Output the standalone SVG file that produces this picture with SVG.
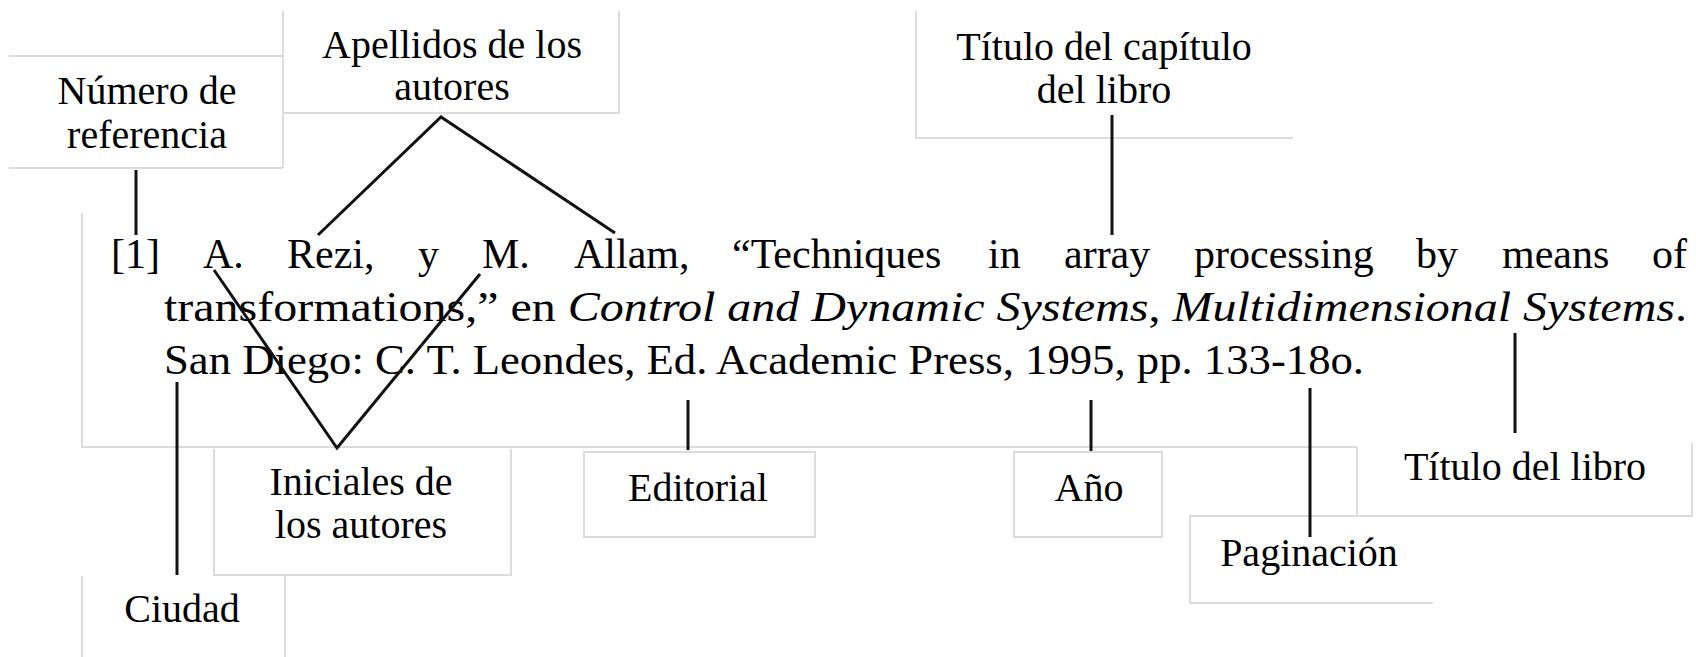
<svg xmlns="http://www.w3.org/2000/svg" width="1696" height="657" viewBox="0 0 1696 657">
<style>
.edge{stroke:#dcdcdc;stroke-width:2;fill:none}
.lbl{font-family:"Liberation Serif","Times New Roman",serif;font-size:40px;fill:#000;text-anchor:middle}
.body{font-family:"Liberation Serif","Times New Roman",serif;font-size:42px;fill:#000}
.it{font-style:italic}
.conn{stroke:#111;stroke-width:3;fill:none;stroke-linejoin:miter}
</style>
<rect width="1696" height="657" fill="#fff"/>
<g id="node-numero">
<path class="edge" d="M9 56H283M9 168H283M283 11V168"/>
<text class="lbl" x="147" y="104">Número de</text>
<text class="lbl" x="147" y="148">referencia</text>
</g>
<g id="node-apellidos">
<path class="edge" d="M283 11V113H619V11"/>
<text class="lbl" x="452" y="58">Apellidos de los</text>
<text class="lbl" x="452" y="100">autores</text>
</g>
<g id="node-titulo-capitulo">
<path class="edge" d="M916 11V138H1293"/>
<text class="lbl" x="1104" y="60">Título del capítulo</text>
<text class="lbl" x="1104" y="103">del libro</text>
</g>
<g id="node-referencia">
<path class="edge" d="M82 213V447H1357"/>
<text class="body" y="268"><tspan x="111">[1]</tspan><tspan x="203">A.</tspan><tspan x="287">Rezi,</tspan><tspan x="418">y</tspan><tspan x="482">M.</tspan><tspan x="574">Allam,</tspan><tspan x="732">“Techniques</tspan><tspan x="988">in</tspan><tspan x="1064">array</tspan><tspan x="1194">processing</tspan><tspan x="1416">by</tspan><tspan x="1502">means</tspan></text>
<text class="body" x="1687" y="268" text-anchor="end">of</text>
<text class="body" x="164" y="321" textLength="1523" lengthAdjust="spacingAndGlyphs">transformations,” en <tspan class="it">Control and Dynamic Systems</tspan>, <tspan class="it">Multidimensional Systems</tspan>.</text>
<text class="body" x="164" y="374" textLength="1200" lengthAdjust="spacingAndGlyphs">San Diego: C. T. Leondes, Ed. Academic Press, 1995, pp. 133-18o.</text>
</g>
<g id="node-iniciales">
<path class="edge" d="M214 449V575H511V449"/>
<text class="lbl" x="361" y="495">Iniciales de</text>
<text class="lbl" x="361" y="538">los autores</text>
</g>
<g id="node-editorial">
<rect class="edge" x="584" y="452" width="231" height="85"/>
<text class="lbl" x="698" y="501">Editorial</text>
</g>
<g id="node-anio">
<rect class="edge" x="1014" y="452" width="148" height="85"/>
<text class="lbl" x="1089" y="501">Año</text>
</g>
<g id="node-titulo-libro">
<path class="edge" d="M1357 447V516H1692V443"/>
<text class="lbl" x="1525" y="480">Título del libro</text>
</g>
<g id="node-paginacion">
<path class="edge" d="M1433 603H1190V516H1357"/>
<text class="lbl" x="1309" y="566">Paginación</text>
</g>
<g id="node-ciudad">
<path class="edge" d="M82 576V657M285 576V657"/>
<text class="lbl" x="182" y="622">Ciudad</text>
</g>
<g id="connectors">
<path class="conn" d="M136 170V235"/>
<path class="conn" d="M318 235L441 117L615 233"/>
<path class="conn" d="M1112 115V235"/>
<path class="conn" d="M214 270L337 448L480 274"/>
<path class="conn" d="M177 382V575"/>
<path class="conn" d="M688 400V450"/>
<path class="conn" d="M1091 400V451"/>
<path class="conn" d="M1310 388V537"/>
<path class="conn" d="M1515 333V433"/>
</g>
</svg>
